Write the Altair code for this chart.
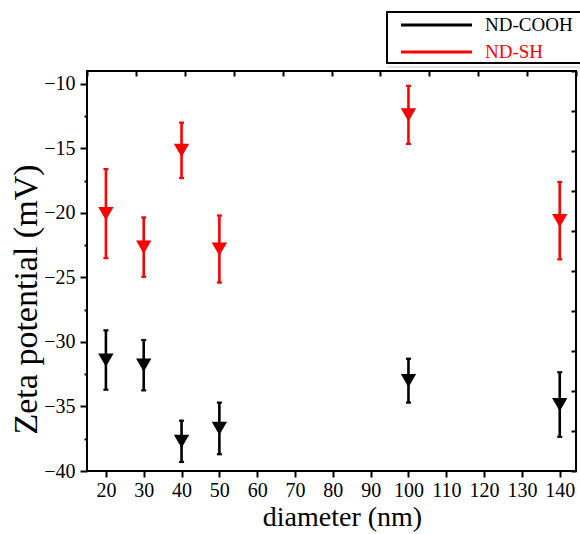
import altair as alt
import pandas as pd

# Zeta potential of functionalised nanodiamonds vs particle diameter
diameters = [20, 30, 40, 50, 100, 140]
cooh_mean = [-31.4, -31.8, -37.7, -36.7, -33.0, -34.85]
cooh_err = [2.3, 1.95, 1.6, 2.0, 1.7, 2.5]
sh_mean = [-20.05, -22.65, -15.15, -22.8, -12.4, -20.6]
sh_err = [3.45, 2.3, 2.15, 2.6, 2.25, 3.0]

series_names = ["ND-COOH", "ND-SH"]
series_colors = ["#000000", "#ff0000"]

x_ticks = list(range(20, 141, 10))
y_ticks = [-40, -35, -30, -25, -20, -15, -10]
y_minor = [-37.5, -32.5, -27.5, -22.5, -17.5, -12.5]

W, H = 489, 400
FONT = "Liberation Serif, Times New Roman, serif"

rows = []
for name, means, errs in [(series_names[0], cooh_mean, cooh_err),
                          (series_names[1], sh_mean, sh_err)]:
    for d, m, e in zip(diameters, means, errs):
        rows.append({"series": name, "diameter": d, "zeta": m,
                     "lo": m - e, "hi": m + e})
df = pd.DataFrame(rows)

xs = alt.Scale(domain=[15, 144.3], nice=False, zero=False)
ys = alt.Scale(domain=[-40, -9], nice=False, zero=False)
color = alt.Color("series:N",
                  scale=alt.Scale(domain=series_names, range=series_colors),
                  legend=None)

x_axis = alt.Axis(values=x_ticks, title="diameter (nm)", tickSize=6, tickWidth=2,
                  tickColor="black", labelFontSize=20, labelColor="black",
                  labelPadding=3, titleFontSize=28, titleFontWeight="normal",
                  titleColor="black", titleX=255, titleY=54,
                  titleBaseline="alphabetic", titleAlign="center",
                  domain=False, grid=False, labelFlush=False)
y_axis = alt.Axis(values=y_ticks, title="Zeta potential (mV)", tickSize=7,
                  tickWidth=2, tickColor="black", labelFontSize=20,
                  labelColor="black", labelPadding=5, titleFontSize=34,
                  titleFontWeight="normal", titleColor="black", titleAngle=270,
                  titleX=-51, titleY=228, titleBaseline="alphabetic",
                  titleAlign="center", domain=False, grid=False, labelFlush=False)

base = alt.Chart(df).encode(x=alt.X("diameter:Q", scale=xs, axis=x_axis),
                            color=color)
bars = base.mark_rule(strokeWidth=2.6).encode(
    y=alt.Y("lo:Q", scale=ys, axis=y_axis), y2="hi:Q")
cap_hi = base.mark_point(shape="stroke", size=25, strokeWidth=2.2,
                         opacity=1).encode(y=alt.Y("hi:Q", scale=ys))
cap_lo = base.mark_point(shape="stroke", size=25, strokeWidth=2.2,
                         opacity=1).encode(y=alt.Y("lo:Q", scale=ys))
points = base.mark_point(shape="triangle-down", filled=True, size=235,
                         opacity=1).encode(y=alt.Y("zeta:Q", scale=ys))
data_layer = alt.layer(bars, cap_hi, cap_lo, points)

# minor ticks on the left axis
minor_layer = alt.Chart(pd.DataFrame({"v": y_minor})).mark_point(opacity=0).encode(
    y=alt.Y("v:Q", scale=ys,
            axis=alt.Axis(orient="left", values=y_minor, labels=False,
                          tickSize=3, tickWidth=2, tickColor="black",
                          domain=False, grid=False, title=None)))

# inward ticks on the top and right frame edges
frame_steps = list(range(11))
mirror_layer = alt.Chart(pd.DataFrame({"u": [0, 10]})).mark_point(opacity=0).encode(
    x=alt.X("u:Q", scale=alt.Scale(domain=[0, 10], nice=False),
            axis=alt.Axis(orient="top", values=frame_steps, labels=False,
                          tickSize=5, tickWidth=2, tickColor="black", offset=-5,
                          domain=False, grid=False, title=None)),
    y=alt.Y("u:Q", scale=alt.Scale(domain=[0, 10], nice=False),
            axis=alt.Axis(orient="right", values=frame_steps, labels=False,
                          tickSize=5, tickWidth=2, tickColor="black", offset=-5,
                          domain=False, grid=False, title=None)))

# legend box with line samples
one = pd.DataFrame({"k": [0]})
legend_parts = [
    alt.Chart(one).mark_rule(color="#c8c8c8", strokeWidth=1).encode(
        x=alt.value(300), x2=alt.value(520), y=alt.value(-4), y2=alt.value(-4)),
    alt.Chart(one).mark_rect(fill="white", stroke="black", strokeWidth=2).encode(
        x=alt.value(300), x2=alt.value(520), y=alt.value(-59), y2=alt.value(-8)),
]
for i, (name, col) in enumerate(zip(series_names, series_colors)):
    ly = -46 + 27 * i
    legend_parts.append(
        alt.Chart(one).mark_rule(color=col, strokeWidth=3).encode(
            x=alt.value(314), x2=alt.value(385), y=alt.value(ly), y2=alt.value(ly)))
    legend_parts.append(
        alt.Chart(one).mark_text(text=name, color=col, font=FONT, fontSize=19,
                                 align="left", baseline="middle").encode(
            x=alt.value(398), y=alt.value(ly)))

chart = alt.layer(data_layer, minor_layer, mirror_layer, *legend_parts).resolve_scale(
    x="independent", y="independent"
).properties(
    width=W, height=H,
    autosize=alt.AutoSizeParams(type="none"),
    padding={"left": 87, "top": 71, "right": 4, "bottom": 63},
).configure(font=FONT, background="white").configure_view(
    stroke="black", strokeWidth=2
).configure_axis(labelFont=FONT, titleFont=FONT)

chart.save("out.html", embed_options={"renderer": "svg", "actions": False})
